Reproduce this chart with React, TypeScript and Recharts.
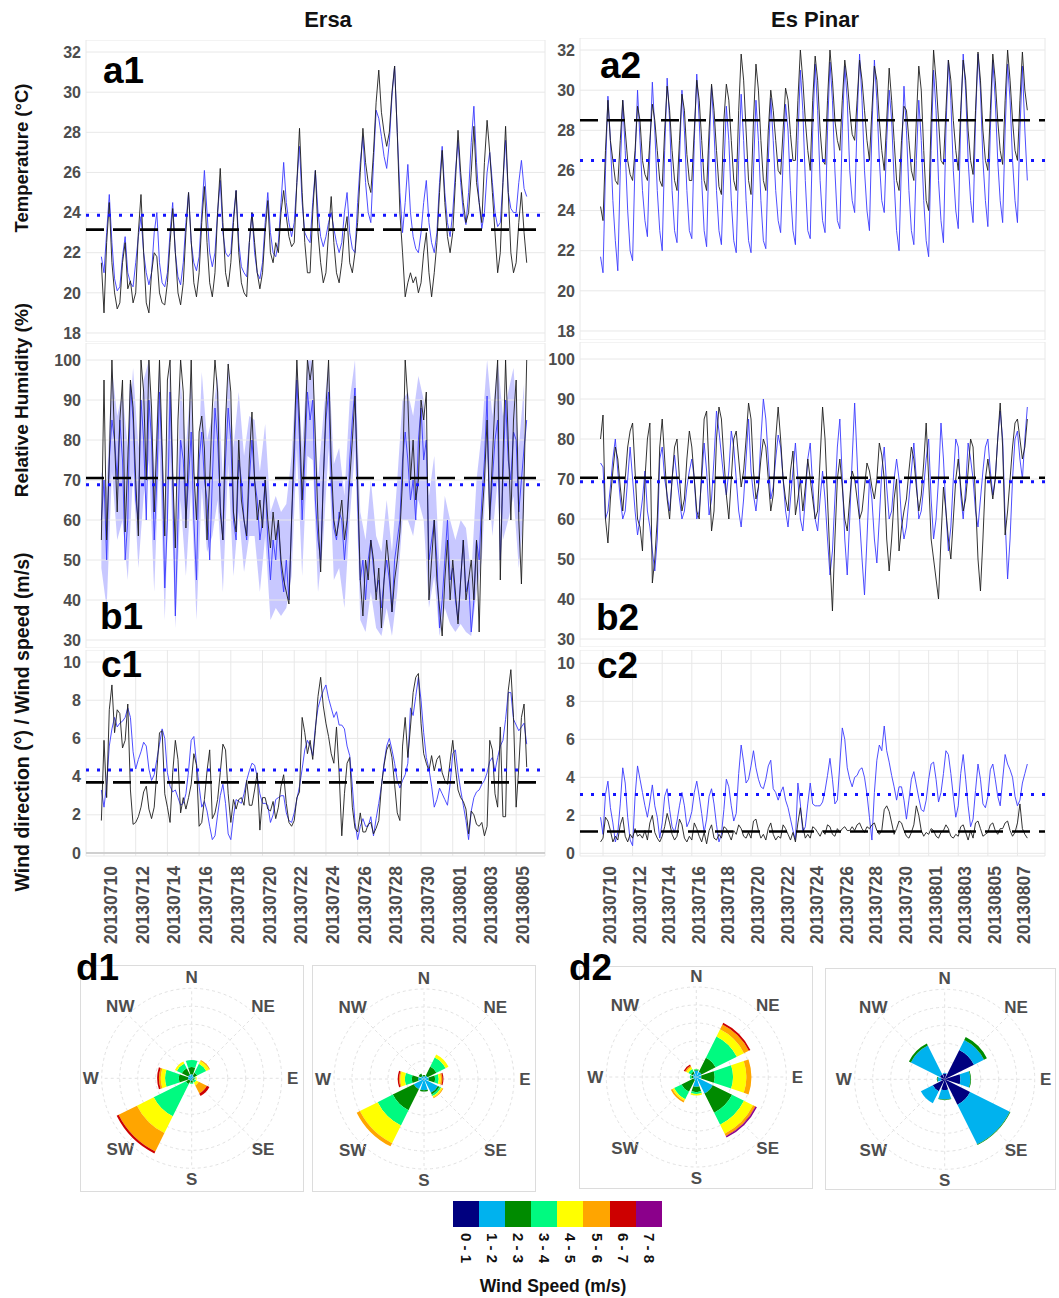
import React from 'react';
import {
  ComposedChart, Line, Area, XAxis, YAxis, CartesianGrid, ReferenceLine,
  RadialBarChart, RadialBar, PolarGrid, PolarAngleAxis, PolarRadiusAxis,
} from 'recharts';

const FONT = '"Liberation Sans", Arial, Helvetica, sans-serif';
const TICK_GREY = '#4d4d4d';
const GRID = '#e8e8e8';
const OBS_COLOR = '#1e1e1e';
const MOD_COLOR = '#3a3aff';

// 4-hourly samples, first one 4 h before 10 July 00:00 (t in days since 10 July)
const T0 = -1 / 6;
const STEP = 1 / 6;

const ERSA_DATES = ['20130710', '20130712', '20130714', '20130716', '20130718', '20130720', '20130722',
  '20130724', '20130726', '20130728', '20130730', '20130801', '20130803', '20130805'];
const PINAR_DATES = [...ERSA_DATES, '20130807'];

const TEMP_TICKS = [18, 20, 22, 24, 26, 28, 30, 32];
const RH_TICKS = [30, 40, 50, 60, 70, 80, 90, 100];
const WS_TICKS = [0, 2, 4, 6, 8, 10];

// ---- Ersa temperature (a1)
const A1_OBS = [21.5,
  19.0, 22.5, 24.5, 21.5, 20.0, 19.2,
  19.5, 21.5, 22.5, 20.2, 20.6, 19.5,
  20.0, 23.0, 24.9, 22.0, 19.5, 19.0,
  21.0, 22.0, 21.8, 20.0, 19.5, 19.4,
  20.5, 22.5, 24.2, 22.0, 20.0, 19.4,
  20.5, 23.0, 25.0, 22.6, 20.5, 19.8,
  21.0, 23.5, 25.3, 22.5, 20.5, 19.8,
  21.0, 24.0, 26.2, 23.5, 21.0, 20.3,
  21.5, 23.5, 25.1, 22.0, 20.5, 20.0,
  19.8, 22.5, 24.0, 22.5, 21.0, 20.2,
  21.0, 23.0, 24.6, 22.0, 21.5, 22.5,
  22.0, 24.0, 25.1, 23.8, 22.8, 22.3,
  22.5, 25.5, 28.2, 25.0, 22.5, 21.0,
  21.0, 24.0, 26.1, 23.0, 21.5, 20.5,
  21.0, 23.0, 24.8, 22.5, 21.0, 20.5,
  21.5, 23.0, 23.8, 21.5, 21.0, 22.0,
  23.5, 26.0, 28.2, 26.5, 25.5, 25.0,
  27.0, 29.5, 31.1, 29.0, 28.0, 27.3,
  28.0, 30.0, 31.3, 28.0, 24.0, 22.0,
  19.8, 20.5, 21.0, 20.5, 20.8, 20.0,
  20.5, 22.0, 23.0, 21.0, 19.8, 21.0,
  22.5, 25.0, 27.1, 24.5, 22.8, 22.0,
  23.0, 25.5, 28.1, 26.0, 24.5, 23.5,
  24.0, 26.0, 28.3, 25.5, 24.5, 23.5,
  26.5, 28.6, 27.0, 25.0, 23.0, 21.0,
  22.0, 25.5, 28.3, 25.0, 22.0, 21.0,
  21.5, 23.5, 25.0, 23.0, 21.5];
const A1_MOD = [21.8,
  21.0, 23.0, 24.9, 22.5, 20.7, 20.1,
  20.3, 21.8, 22.8, 21.0, 20.5, 20.3,
  21.5, 22.8, 23.8, 22.0, 21.0, 20.4,
  21.0, 23.0, 24.0, 21.5, 20.5, 20.3,
  21.0, 23.0, 24.5, 22.0, 20.8, 20.4,
  21.5, 23.5, 25.0, 22.5, 21.5, 21.1,
  21.8, 24.0, 26.1, 24.0, 22.0, 21.3,
  22.0, 24.0, 25.6, 23.0, 22.0, 21.8,
  22.0, 23.8, 25.1, 22.5, 21.3, 21.0,
  20.8, 22.5, 24.0, 22.0, 21.0, 20.7,
  21.5, 23.5, 25.0, 23.0, 22.0, 21.8,
  22.5, 24.5, 26.5, 24.5, 23.5, 22.8,
  23.5, 25.5, 27.3, 24.5, 23.0, 22.7,
  22.5, 24.5, 26.1, 24.0, 22.8, 22.3,
  22.8, 23.5, 24.0, 23.2, 22.5, 22.0,
  22.5, 24.0, 25.0, 23.0, 22.2, 22.0,
  24.5, 26.5, 27.8, 25.5, 24.0, 23.5,
  26.5, 29.1, 28.7, 27.8, 26.8, 26.2,
  27.5, 29.8, 31.3, 28.0, 25.0, 23.0,
  24.5, 26.4, 24.0, 22.8, 22.2, 22.0,
  23.0, 24.5, 25.6, 23.5, 22.5, 22.0,
  23.0, 25.5, 27.3, 25.0, 23.5, 22.8,
  24.0, 26.0, 27.6, 25.5, 24.0, 23.4,
  25.0, 27.5, 29.3, 26.5, 24.5, 23.2,
  24.0, 26.0, 27.0, 25.5, 24.0, 23.3,
  23.5, 25.5, 27.6, 25.0, 24.2, 24.0,
  24.0, 25.5, 26.6, 25.2, 24.8];

// ---- Es Pinar temperature (a2)
const A2_OBS = [24.2,
  23.5, 27.0, 29.5, 27.5, 26.5, 25.5,
  25.3, 27.5, 29.5, 28.0, 26.5, 25.8,
  25.5, 27.0, 29.2, 28.5, 26.5, 25.8,
  25.5, 27.5, 29.3, 28.5, 27.0, 25.5,
  25.2, 28.0, 30.2, 29.0, 27.0, 25.5,
  25.0, 27.5, 29.8, 29.0, 26.8, 25.5,
  25.5, 28.0, 30.5, 29.5, 27.5, 25.5,
  25.0, 28.0, 30.3, 29.0, 27.0, 25.2,
  24.8, 28.5, 30.3, 29.5, 27.5, 25.5,
  25.0, 29.0, 31.8, 30.5, 28.0, 25.5,
  24.8, 28.5, 31.3, 30.0, 27.5, 25.5,
  25.0, 28.0, 30.0, 29.0, 27.5, 26.0,
  25.8, 28.0, 30.1, 29.5, 27.8, 26.5,
  26.5, 29.5, 32.0, 30.5, 28.5, 27.0,
  26.0, 29.5, 31.7, 30.5, 28.0, 26.5,
  26.3, 29.5, 32.0, 30.5, 28.5, 27.5,
  27.0, 29.5, 31.5, 30.5, 29.0, 27.8,
  27.5, 29.5, 31.5, 30.5, 29.0, 27.5,
  26.5, 29.0, 31.2, 30.5, 28.5, 27.0,
  26.0, 28.5, 31.1, 29.5, 27.5, 25.5,
  25.0, 27.5, 29.2, 29.0, 27.5, 26.0,
  25.5, 28.5, 31.2, 30.0, 27.0, 24.5,
  24.0, 28.5, 32.0, 30.5, 28.5, 26.5,
  26.3, 29.0, 31.5, 30.5, 28.5, 27.0,
  26.0, 29.0, 31.5, 30.5, 28.0, 26.5,
  25.8, 29.0, 31.9, 30.5, 28.0, 26.5,
  26.0, 29.0, 31.8, 30.5, 28.5, 27.0,
  26.3, 29.5, 32.0, 30.5, 28.5, 27.0,
  26.5, 29.5, 31.9, 30.0, 29.0];
const A2_MOD = [21.7,
  20.9, 26.0, 29.7, 27.5, 24.5, 22.5,
  21.0, 26.0, 29.5, 27.0, 24.0, 22.0,
  21.5, 26.5, 30.0, 27.5, 25.0, 23.5,
  22.7, 27.0, 30.4, 28.0, 25.0, 23.0,
  22.0, 27.0, 30.6, 28.5, 25.0, 23.0,
  22.4, 26.5, 30.0, 28.0, 25.0, 23.0,
  22.6, 27.5, 30.8, 28.5, 25.5, 23.0,
  22.2, 27.0, 30.2, 28.0, 25.0, 23.0,
  22.3, 26.0, 29.2, 27.5, 24.5, 22.5,
  21.9, 26.5, 29.8, 27.5, 24.5, 22.5,
  21.9, 26.0, 29.5, 27.5, 24.5, 22.5,
  22.1, 26.5, 29.6, 27.5, 25.0, 23.5,
  22.9, 26.5, 29.3, 28.0, 25.0, 23.0,
  22.3, 27.5, 31.0, 29.0, 25.5, 23.0,
  22.6, 28.0, 31.3, 29.0, 25.5, 23.5,
  22.9, 28.0, 31.4, 29.5, 26.0, 23.5,
  23.1, 28.0, 31.2, 29.5, 26.0, 24.5,
  23.9, 28.5, 31.8, 29.5, 26.0, 24.0,
  23.0, 28.0, 31.5, 29.5, 26.5, 24.5,
  23.9, 27.5, 30.0, 28.5, 25.5, 23.0,
  22.0, 26.5, 30.2, 28.0, 25.0, 23.0,
  22.3, 26.5, 29.5, 27.5, 24.5, 22.5,
  21.7, 27.0, 31.0, 29.0, 25.5, 23.5,
  22.4, 28.0, 31.5, 29.5, 26.0, 24.0,
  23.1, 28.5, 31.8, 30.0, 26.5, 24.5,
  23.4, 28.5, 31.8, 30.0, 26.5, 24.5,
  23.2, 28.0, 31.5, 29.5, 26.5, 24.5,
  23.4, 28.0, 31.3, 29.5, 26.5, 24.5,
  23.4, 28.0, 31.2, 28.0, 25.5];

// ---- Ersa relative humidity (b1)
const B1_OBS = [55,
  95, 55, 75, 100, 80, 62,
  85, 95, 57, 75, 95, 88,
  70, 56, 100, 92, 70, 100,
  88, 62, 80, 100, 78, 56,
  95, 100, 72, 53, 85, 100,
  92, 58, 78, 100, 72, 60,
  82, 86, 78, 55, 70, 88,
  100, 92, 62, 55, 85, 99,
  92, 62, 57, 80, 65, 60,
  56, 75, 87, 70, 60, 65,
  58, 70, 60, 53, 62, 55,
  60, 50, 45, 42, 39, 60,
  80, 100, 85, 65, 80, 100,
  95, 100, 80, 60, 47, 70,
  88, 100, 75, 60, 56, 60,
  65, 55, 60, 70, 80, 91,
  70, 45, 36, 50, 45, 55,
  50, 40, 48, 33, 45, 55,
  48, 37, 45, 50, 57, 70,
  100, 90, 70, 80, 65, 70,
  90, 85, 92, 40, 50, 60,
  45, 38, 31, 45, 55, 40,
  50, 42, 34, 45, 55, 40,
  45, 50, 40, 55, 32, 60,
  70, 85, 60, 75, 90, 100,
  45, 75, 100, 80, 60, 85,
  95, 60, 44, 70, 100];
const B1_MOD = [60,
  70, 50, 75, 85, 80, 70,
  85, 75, 50, 60, 94, 85,
  65, 60, 90, 80, 60, 90,
  80, 55, 70, 92, 75, 43,
  60, 92, 70, 36, 60, 80,
  75, 60, 70, 82, 60, 45,
  75, 82, 70, 65, 50, 70,
  88, 80, 64, 55, 75, 88,
  80, 60, 55, 75, 70, 60,
  55, 70, 80, 70, 65, 55,
  60, 70, 55, 45, 55, 50,
  60, 48, 42, 50, 40, 60,
  75, 95, 80, 60, 75, 92,
  85, 90, 65, 55, 50, 70,
  85, 92, 70, 58, 55, 62,
  60, 50, 58, 75, 85, 93,
  65, 45, 50, 40, 50, 55,
  48, 42, 45, 38, 45, 50,
  45, 37, 50, 55, 60, 75,
  82, 75, 65, 70, 60, 80,
  88, 75, 80, 50, 55, 60,
  50, 33, 40, 50, 60, 45,
  48, 40, 35, 45, 55, 42,
  45, 32, 40, 55, 50, 65,
  75, 91, 60, 70, 80, 85,
  50, 70, 90, 75, 70, 82,
  80, 62, 70, 78, 85];
// model spread, 8-hourly
const B1_BAND_LO = [48,
  38, 72, 55, 60, 45, 72, 48, 66, 75, 42, 78, 35, 76, 33, 65, 46, 68, 35,
  68, 52, 56, 65, 42, 74, 46, 62, 47, 56, 56, 42, 56, 35, 38, 36, 38, 46,
  78, 46, 76, 75, 42, 55, 78, 45, 48, 38, 60, 78, 35, 32, 42, 33, 31, 38,
  31, 42, 60, 60, 56, 65, 60, 38, 46, 31, 38, 34, 32, 34, 32, 31, 42, 50,
  76, 56, 70, 55, 60, 66, 48, 62];
const B1_BAND_HI = [72,
  68, 98, 86, 92, 78, 98, 78, 95, 100, 72, 100, 60, 100, 52, 95, 78, 96, 62,
  97, 80, 86, 96, 70, 100, 78, 92, 76, 86, 85, 72, 84, 62, 66, 62, 64, 76,
  100, 78, 100, 100, 70, 86, 100, 74, 78, 66, 90, 100, 62, 55, 70, 56, 52, 65,
  52, 70, 90, 92, 86, 96, 90, 66, 76, 48, 66, 60, 55, 60, 58, 46, 70, 82,
  100, 86, 100, 86, 92, 98, 78, 94];

// ---- Es Pinar relative humidity (b2)
const B2_OBS = [80,
  86, 60, 54, 65, 72, 78,
  75, 68, 62, 70, 78, 82,
  84, 72, 60, 58, 52, 70,
  80, 84, 44, 50, 60, 78,
  85, 75, 65, 60, 70, 78,
  80, 70, 62, 65, 75, 82,
  78, 70, 62, 60, 72, 85,
  87, 72, 57, 62, 80, 88,
  85, 75, 66, 60, 70, 80,
  82, 75, 68, 72, 80, 89,
  85, 72, 65, 68, 75, 80,
  78, 70, 62, 66, 80, 88,
  80, 70, 65, 62, 72, 77,
  61, 65, 70, 62, 68, 75,
  70, 65, 60, 62, 75, 88,
  80, 65, 50, 37, 55, 70,
  75, 68, 60, 57, 65, 72,
  70, 65, 60, 62, 68, 74,
  72, 68, 65, 70, 79, 76,
  70, 55, 47, 55, 65, 70,
  52, 58, 62, 65, 72, 78,
  75, 68, 62, 66, 74, 84,
  70, 55, 50, 45, 40, 55,
  68, 62, 55, 50, 60, 70,
  75, 68, 62, 65, 72, 80,
  78, 65, 50, 42, 55, 70,
  75, 70, 65, 70, 80, 89,
  78, 56, 62, 70, 78, 84,
  85, 80, 75, 78, 85];
const B2_MOD = [74,
  73, 60, 62, 68, 75, 80,
  72, 65, 60, 62, 70, 78,
  70, 62, 56, 60, 65, 72,
  62, 58, 52, 47, 55, 75,
  78, 70, 66, 62, 70, 76,
  70, 65, 60, 62, 68, 72,
  75, 70, 60, 62, 70, 79,
  72, 61, 65, 75, 87, 82,
  76, 70, 66, 72, 82, 78,
  70, 62, 58, 65, 75, 85,
  72, 66, 62, 68, 80, 90,
  85, 75, 65, 68, 75, 81,
  78, 70, 62, 58, 65, 72,
  79, 70, 60, 57, 65, 75,
  79, 68, 60, 57, 65, 72,
  65, 55, 46, 52, 65, 78,
  85, 70, 55, 46, 60, 75,
  89, 75, 60, 50, 41, 55,
  70, 65, 55, 49, 60, 72,
  78, 68, 60, 62, 70, 75,
  70, 60, 55, 58, 65, 72,
  79, 70, 60, 62, 68, 75,
  80, 65, 55, 60, 70, 84,
  75, 62, 52, 58, 70, 80,
  78, 66, 60, 68, 79, 75,
  70, 62, 58, 65, 72, 78,
  80, 72, 66, 70, 80, 87,
  80, 60, 45, 55, 70, 80,
  82, 75, 70, 80, 88];

// ---- Ersa wind speed (c1)
const C1_OBS = [1.7,
  5.9, 2.9, 7.5, 8.8, 6.3, 7.5,
  7.3, 5.5, 5.9, 7.8, 3.3, 1.5,
  1.6, 1.9, 2.4, 3.2, 3.5, 2.3,
  1.8, 2.4, 4.3, 6.3, 6.4, 3.1,
  2.4, 1.6, 4.2, 5.9, 4.9, 2.1,
  2.9, 2.3, 2.9, 3.6, 5.2, 4.6,
  1.4, 1.6, 2.8, 4.3, 5.4, 1.8,
  2.1, 2.8, 4.2, 5.7, 5.4, 3.1,
  1.6, 2.8, 2.3, 2.8, 2.9, 2.5,
  3.8, 2.5, 2.5, 3.3, 4.2, 1.2,
  2.9, 2.9, 2.3, 2.2, 2.7, 1.8,
  2.4, 3.5, 4.1, 2.6, 1.6, 1.4,
  1.7, 2.9, 3.2, 7.1, 6.3, 5.2,
  5.9, 4.9, 6.4, 8.2, 9.2, 7.7,
  6.8, 6.1, 5.2, 4.7, 6.6, 4.2,
  0.9, 3.1, 4.7, 5.0, 2.4, 1.3,
  1.1, 2.1, 1.1, 1.1, 1.5, 1.6,
  1.0, 1.3, 1.7, 3.5, 4.6, 5.4,
  5.7, 5.0, 3.6, 2.1, 1.7, 5.6,
  7.1, 5.0, 6.6, 8.4, 9.2, 9.4,
  6.8, 5.2, 4.7, 4.3, 5.1, 4.3,
  4.9, 5.1, 4.2, 3.8, 3.6, 4.8,
  5.9, 4.5, 3.3, 2.9, 2.7, 2.3,
  1.0, 2.2, 2.0, 1.5, 1.4, 1.6,
  0.9, 1.4, 5.9, 5.4, 3.1, 2.4,
  6.6, 1.9, 1.9, 8.5, 9.6, 7.1,
  2.4, 4.5, 7.1, 7.8, 4.5];
const C1_MOD = [3.3,
  2.4, 3.6, 5.6, 6.5, 7.1, 6.6,
  6.8, 6.9, 7.1, 7.6, 7.1, 5.3,
  4.4, 4.9, 5.3, 5.8, 5.6, 4.4,
  3.8, 4.1, 4.9, 5.7, 6.5, 6.0,
  4.2, 3.5, 3.2, 3.3, 2.9, 2.5,
  2.6, 3.1, 4.3, 5.9, 6.1, 4.7,
  3.5, 2.4, 2.7, 2.2, 1.4, 0.7,
  0.9, 2.0, 3.0, 3.6, 2.6, 1.0,
  0.7, 1.9, 2.8, 2.7, 2.6, 3.1,
  3.8, 4.3, 4.7, 4.6, 4.0, 3.1,
  2.6, 2.6, 2.5, 1.6, 2.0, 2.8,
  2.9, 3.0, 3.0, 2.1, 1.7, 1.6,
  2.1, 2.8, 3.5, 4.4, 5.4, 5.9,
  5.6, 5.1, 6.6, 7.6, 8.1, 8.5,
  8.8, 8.1, 7.6, 7.1, 7.4, 6.7,
  6.7, 6.5, 5.6, 5.1, 3.5, 1.6,
  0.7, 1.4, 1.8, 1.4, 1.4, 1.9,
  0.9, 1.8, 2.6, 3.5, 4.7, 5.6,
  6.0, 5.4, 4.7, 3.8, 3.4, 3.8,
  4.1, 4.7, 7.6, 7.2, 8.2, 9.2,
  8.0, 6.3, 5.0, 4.4, 3.5, 2.4,
  2.8, 3.4, 3.1, 2.8, 2.5, 3.6,
  5.2, 5.4, 4.2, 3.3, 2.5, 1.7,
  0.7, 2.2, 2.9, 3.2, 3.3, 3.6,
  3.8, 4.2, 4.8, 5.0, 4.3, 5.0,
  5.6, 5.9, 7.0, 8.4, 8.4, 7.0,
  6.7, 6.4, 6.6, 6.8, 5.7];

// ---- Es Pinar wind speed (c2)
const C2_OBS = [0.6,
  0.8, 1.9, 1.7, 1.2, 0.6, 0.9,
  0.7, 1.5, 1.9, 0.9, 0.6, 1.0,
  0.8, 1.3, 0.9, 1.0, 0.8, 1.2,
  0.7, 1.6, 2.0, 1.1, 0.8, 0.6,
  0.9, 1.4, 2.1, 1.6, 1.0, 0.7,
  0.9, 1.8, 1.5, 0.8, 0.6, 0.9,
  0.7, 1.6, 1.3, 0.9, 0.6, 1.1,
  0.5, 1.2, 1.5, 0.8, 0.7, 1.0,
  0.8, 1.4, 1.3, 1.0, 0.7, 1.2,
  1.0, 1.5, 1.3, 0.9, 0.8, 1.1,
  0.8, 1.7, 1.8, 1.2, 0.8, 1.0,
  0.7, 1.3, 1.6, 1.0, 0.7, 0.9,
  0.8, 1.5, 1.3, 1.0, 0.7, 1.1,
  0.6, 1.6, 2.4, 1.4, 0.8, 1.0,
  0.8, 1.4, 1.3, 1.1, 0.9, 1.2,
  1.0, 1.5, 1.4, 1.0, 0.9, 1.3,
  1.1, 1.3, 1.4, 1.2, 1.2, 1.4,
  1.2, 1.5, 1.6, 1.3, 1.1, 1.4,
  1.3, 1.5, 1.6, 1.2, 1.0, 1.2,
  2.3, 2.5, 2.2, 1.6, 1.0, 1.3,
  1.7, 1.6, 1.2, 0.9, 0.8, 1.1,
  1.5, 2.5, 2.0, 1.2, 0.9, 1.1,
  1.0, 1.3, 1.2, 0.9, 0.8, 1.1,
  1.2, 1.5, 1.3, 0.9, 0.8, 1.0,
  0.9, 1.4, 1.5, 1.1, 0.7, 1.2,
  0.8, 1.6, 1.7, 1.3, 0.9, 1.0,
  1.1, 1.5, 1.6, 1.2, 1.0, 1.3,
  1.3, 1.6, 1.7, 1.2, 0.9, 1.1,
  1.6, 2.6, 1.3, 1.0, 0.8];
const C2_MOD = [1.9,
  1.0, 3.1, 3.8, 2.4, 1.6, 0.6,
  1.1, 2.6, 4.5, 3.7, 1.9, 0.7,
  0.4, 3.0, 4.6, 3.9, 3.2, 2.5,
  1.9, 2.7, 3.6, 2.5, 1.9, 0.8,
  1.6, 3.0, 3.4, 2.3, 1.4, 1.1,
  1.7, 2.5, 3.2, 2.5, 1.4, 1.7,
  2.2, 3.2, 3.8, 3.0, 2.1, 1.1,
  1.8, 3.0, 3.4, 2.6, 1.5, 0.6,
  1.0, 2.3, 3.9, 3.5, 2.5, 1.7,
  2.1, 4.2, 5.7, 4.8, 3.7, 3.9,
  4.6, 5.4, 4.5, 3.9, 3.5, 3.4,
  3.9, 4.6, 4.9, 3.4, 3.2, 2.8,
  3.2, 3.5, 2.8, 2.4, 1.8, 1.2,
  0.7, 3.7, 2.6, 1.1, 1.4, 2.6,
  3.7, 2.6, 2.5, 2.5, 2.5, 2.7,
  3.3, 4.1, 5.0, 3.9, 2.6, 2.8,
  4.7, 6.6, 6.0, 4.5, 3.9, 3.5,
  4.0, 4.1, 4.4, 4.5, 4.0, 3.1,
  1.9, 0.7, 3.2, 4.9, 5.7, 5.4,
  6.7, 5.4, 4.8, 4.1, 3.5, 2.8,
  3.5, 3.5, 2.8, 1.8, 2.8, 3.9,
  4.3, 3.6, 2.9, 2.3, 2.2, 2.8,
  3.9, 4.7, 4.8, 3.9, 2.7, 3.2,
  4.2, 5.4, 5.2, 4.2, 3.0, 1.9,
  2.5, 4.2, 5.2, 3.9, 2.5, 1.4,
  1.8, 3.3, 4.7, 3.9, 2.6, 2.4,
  3.0, 4.4, 4.7, 3.9, 3.0, 2.5,
  3.9, 5.2, 4.7, 4.4, 4.0, 3.0,
  2.5, 2.8, 3.7, 4.2, 4.7];

// ---- wind roses: frequency (%) per direction, split by speed bin
const DIRECTIONS = ['N', 'NE', 'E', 'SE', 'S', 'SW', 'W', 'NW'];
const COMPASS_ANGLES = [90, 45, 0, -45, -90, -135, -180, -225];
const SPEED_BINS = ['0 - 1', '1 - 2', '2 - 3', '3 - 4', '4 - 5', '5 - 6', '6 - 7', '7 - 8'];
const SPEED_COLORS = ['#00007f', '#00b2ee', '#008b00', '#00fa80', '#ffff00', '#ffa500', '#cd0000', '#8b008b'];

const ROSE_ERSA_1 = [
  [0.1, 1.0, 2.0, 2.0, 0, 0, 0, 0],
  [0.1, 0.6, 1.0, 2.8, 0.9, 0.3, 0, 0],
  [0.1, 0.4, 0.3, 0.3, 0.3, 0, 0, 0],
  [0.1, 0.3, 0.4, 0.6, 0.8, 2.5, 0.8, 0],
  [0.1, 0.6, 0.5, 0.3, 0, 0, 0, 0],
  [0.2, 0.6, 1.0, 10.0, 5.2, 5.7, 0.6, 0],
  [0.2, 0.8, 2.6, 3.8, 1.2, 0.5, 0.5, 0],
  [0.1, 1.0, 2.0, 1.5, 0.6, 0, 0, 0],
];
const ROSE_ERSA_2 = [
  [0.1, 0.6, 0.4, 0, 0, 0, 0, 0],
  [0.1, 1.0, 2.8, 2.8, 0.9, 0, 0, 0],
  [0.1, 1.2, 1.8, 1.0, 0.6, 0.4, 0.3, 0],
  [0.1, 4.2, 0.5, 0.5, 0.4, 0.3, 0, 0],
  [0.1, 3.0, 0.4, 0, 0, 0, 0, 0],
  [0.3, 2.9, 6.5, 4.7, 5.5, 1.0, 0, 0],
  [0.1, 1.5, 1.8, 1.9, 1.3, 0.3, 0.4, 0],
  [0.1, 0.8, 0.8, 0, 0, 0, 0, 0],
];
const ROSE_PINAR_1 = [
  [0.1, 1.7, 0.2, 0.2, 0.1, 0, 0, 0],
  [0.1, 1.5, 4.4, 6.6, 2.2, 1.5, 0.5, 0],
  [0.1, 1.3, 3.7, 5.1, 3.7, 1.4, 0, 0],
  [0.1, 5.0, 6.0, 3.7, 2.8, 0.7, 0.1, 0.4],
  [0.1, 2.6, 1.5, 0.5, 0.4, 0, 0, 0],
  [0.1, 0.8, 3.7, 2.3, 0.5, 0.5, 0, 0],
  [0.1, 0.8, 0.5, 0.4, 0, 0, 0, 0],
  [0.1, 1.0, 0.6, 0.8, 0.6, 0.4, 0.4, 0],
];
const ROSE_PINAR_2 = [
  [1.6, 0.2, 0, 0, 0, 0, 0, 0],
  [9.1, 3.1, 0.9, 0, 0, 0, 0, 0],
  [4.4, 2.7, 0.2, 0, 0, 0, 0, 0],
  [7.9, 12.3, 0.2, 0, 0, 0, 0, 0],
  [3.0, 2.6, 0.2, 0, 0, 0, 0, 0],
  [3.7, 3.7, 0, 0, 0, 0, 0, 0],
  [1.0, 1.0, 0.2, 0, 0, 0, 0, 0],
  [1.5, 9.0, 0.6, 0, 0, 0, 0, 0],
];

function DateTick(props: any) {
  const { x, y, payload, dates } = props;
  const label = dates[Math.round(payload.value / 2)];
  return (
    <text transform={`translate(${x + 7},${y + 8}) rotate(-90)`} textAnchor="end" dominantBaseline="central"
      fontSize={17.5} fontWeight={700} fill={TICK_GREY} fontFamily={FONT}>{label}</text>
  );
}

function CompassTick(props: any) {
  return (
    <text x={props.x} y={props.y} textAnchor="middle" dominantBaseline="central"
      fontSize={17} fontWeight={700} fill={TICK_GREY} fontFamily={FONT}>{props.payload.value}</text>
  );
}

type PanelProps = {
  left: number; top: number; width: number; height: number;
  axisWidth: number; rightPad: number; bottomAxis: number;
  xDomain: [number, number]; dates: string[];
  yDomain: [number, number]; yTicks: number[];
  obs: number[]; mod: number[]; obsMean: number; modMean: number;
  lo?: number[]; hi?: number[]; zeroLine?: boolean;
};

function SeriesPanel(p: PanelProps) {
  const rows = p.obs.map((v, i) => ({ t: T0 + i * STEP, obs: v, mod: p.mod[i] }));
  const bandRows = p.lo && p.hi ? p.lo.map((v, i) => ({ t: T0 + i * 2 * STEP, band: [v, p.hi![i]] })) : null;
  const xTicks = p.dates.map((_, i) => i * 2);
  const margin = { top: 0, right: p.rightPad, bottom: 0, left: 0 };
  const xAxis = (withTicks: boolean) => (
    <XAxis type="number" dataKey="t" domain={p.xDomain} ticks={xTicks} allowDataOverflow interval={0}
      height={p.bottomAxis} axisLine={false} tickLine={false} tickSize={0}
      tick={withTicks && p.bottomAxis > 0 ? <DateTick dates={p.dates} /> : false} />
  );
  const yAxis = (withTicks: boolean) => (
    <YAxis type="number" domain={p.yDomain} ticks={p.yTicks} allowDataOverflow interval={0} width={p.axisWidth}
      axisLine={false} tickLine={false} tickSize={0} tickMargin={5}
      tick={withTicks ? { fill: TICK_GREY, fontSize: 16, fontWeight: 700, fontFamily: FONT } : false} />
  );
  return (
    <>
      {bandRows && (
        <div style={{ position: 'absolute', left: p.left, top: p.top }}>
          <ComposedChart width={p.width} height={p.height} data={bandRows} margin={margin}>
            {xAxis(false)}
            {yAxis(false)}
            <Area type="linear" dataKey="band" stroke="none" fill="#7b7bff" fillOpacity={0.42} isAnimationActive={false} />
          </ComposedChart>
        </div>
      )}
      <div style={{ position: 'absolute', left: p.left, top: p.top }}>
        <ComposedChart width={p.width} height={p.height} data={rows} margin={margin}>
          <CartesianGrid stroke={GRID} strokeWidth={1} />
          {xAxis(true)}
          {yAxis(true)}
          {p.zeroLine && <ReferenceLine y={0} stroke="#c4c4c4" strokeWidth={1.5} />}
          <Line type="linear" dataKey="mod" stroke={MOD_COLOR} strokeWidth={0.9} dot={false} isAnimationActive={false} />
          <Line type="linear" dataKey="obs" stroke={OBS_COLOR} strokeWidth={1} strokeOpacity={0.9} dot={false} isAnimationActive={false} />
          <ReferenceLine y={p.obsMean} stroke="#000000" strokeWidth={2.6} strokeDasharray="18 9" />
          <ReferenceLine y={p.modMean} stroke="#1414ff" strokeWidth={3} strokeDasharray="3 8" />
        </ComposedChart>
      </div>
    </>
  );
}

type RoseProps = { left: number; top: number; width: number; height: number; cx: number; cy: number; freq: number[][] };

function WindRose({ left, top, width, height, cx, cy, freq }: RoseProps) {
  const rows = DIRECTIONS.map((dir, i) => {
    const row: Record<string, string | number> = { dir };
    SPEED_BINS.forEach((_, j) => { row['s' + j] = freq[i][j]; });
    return row;
  });
  const common = {
    width: width - 2, height: height - 2, data: rows, cx: cx - left - 1, cy: cy - top - 1,
    innerRadius: 0, outerRadius: 90, layout: 'centric' as const, barCategoryGap: '9%',
    margin: { top: 0, right: 0, bottom: 0, left: 0 },
  };
  return (
    <div style={{ position: 'absolute', left, top, width, height, border: '1px solid #dcdcdc', boxSizing: 'border-box' }}>
      {/* compass labels, N at the top */}
      <div style={{ position: 'absolute', left: 0, top: 0 }}>
        <RadialBarChart {...common} startAngle={90} endAngle={-270}>
          <PolarAngleAxis type="category" dataKey="dir" tickLine={false} axisLine={false} tickSize={11} tick={<CompassTick />} />
          <PolarRadiusAxis type="number" domain={[0, 25]} tickCount={6} tick={false} axisLine={false} />
        </RadialBarChart>
      </div>
      {/* grid + stacked wedges; angle axis turned half a sector so each wedge sits on its direction */}
      <div style={{ position: 'absolute', left: 0, top: 0 }}>
        <RadialBarChart {...common} startAngle={67.5} endAngle={-292.5}>
          <PolarGrid gridType="circle" polarAngles={COMPASS_ANGLES} stroke="#e2e2e2" strokeDasharray="3 3" />
          <PolarAngleAxis type="category" dataKey="dir" tick={false} tickLine={false} axisLine={false} />
          <PolarRadiusAxis type="number" domain={[0, 25]} tickCount={6} tick={false} axisLine={false} />
          {SPEED_BINS.map((b, j) => (
            <RadialBar key={b} dataKey={'s' + j} stackId="speed" fill={SPEED_COLORS[j]} isAnimationActive={false} />
          ))}
        </RadialBarChart>
      </div>
    </div>
  );
}

const panelLabel = (text: string, left: number, baseline: number) => (
  <div style={{ position: 'absolute', left, top: baseline - 34, fontSize: 37, fontWeight: 700, lineHeight: '37px', color: '#000' }}>{text}</div>
);

const axisTitle = (text: string, cy: number, size: number) => (
  <div style={{
    position: 'absolute', left: 22, top: cy, transform: 'translate(-50%, -50%) rotate(-90deg)',
    whiteSpace: 'nowrap', fontSize: size, fontWeight: 700, color: '#111',
  }}>{text}</div>
);

export default function App() {
  const L = { left: 0, width: 560, axisWidth: 86, rightPad: 15, xDomain: [-1.136, 27.82] as [number, number], dates: ERSA_DATES };
  const R = { left: 530, width: 529, axisWidth: 50, rightPad: 14, xDomain: [-1.554, 29.86] as [number, number], dates: PINAR_DATES };
  return (
    <div style={{ position: 'absolute', left: 0, top: 0, width: 1059, height: 1298, background: '#fff', fontFamily: FONT, overflow: 'hidden' }}>
      <div style={{ position: 'absolute', left: 328, top: 20, transform: 'translate(-50%,-50%)', fontSize: 22, fontWeight: 700, color: '#111' }}>Ersa</div>
      <div style={{ position: 'absolute', left: 815, top: 20, transform: 'translate(-50%,-50%)', fontSize: 22, fontWeight: 700, color: '#111', whiteSpace: 'nowrap' }}>Es Pinar</div>

      {axisTitle('Temperature (°C)', 158, 18.5)}
      {axisTitle('Relative Humidity (%)', 400, 19)}
      {axisTitle('Wind direction (°) / Wind speed (m/s)', 722, 19.5)}

      <SeriesPanel {...L} top={40} height={302} bottomAxis={0} yDomain={[17.55, 32.6]} yTicks={TEMP_TICKS}
        obs={A1_OBS} mod={A1_MOD} obsMean={23.15} modMean={23.87} />
      <SeriesPanel {...R} top={38} height={302} bottomAxis={0} yDomain={[17.55, 32.6]} yTicks={TEMP_TICKS}
        obs={A2_OBS} mod={A2_MOD} obsMean={28.5} modMean={26.5} />
      <SeriesPanel {...L} top={343} height={305} bottomAxis={0} yDomain={[28, 104.25]} yTicks={RH_TICKS}
        obs={B1_OBS} mod={B1_MOD} obsMean={70.5} modMean={68.8} lo={B1_BAND_LO} hi={B1_BAND_HI} />
      <SeriesPanel {...R} top={342} height={305} bottomAxis={0} yDomain={[28, 104.25]} yTicks={RH_TICKS}
        obs={B2_OBS} mod={B2_MOD} obsMean={70.3} modMean={69.3} />
      <SeriesPanel {...L} top={650} height={300} bottomAxis={94} yDomain={[-0.157, 10.63]} yTicks={WS_TICKS}
        obs={C1_OBS} mod={C1_MOD} obsMean={3.7} modMean={4.35} zeroLine />
      <SeriesPanel {...R} top={650} height={300} bottomAxis={94} yDomain={[-0.14, 10.7]} yTicks={WS_TICKS}
        obs={C2_OBS} mod={C2_MOD} obsMean={1.15} modMean={3.1} />

      {panelLabel('a1', 103, 86)}
      {panelLabel('a2', 600, 81)}
      {panelLabel('b1', 100, 632)}
      {panelLabel('b2', 596, 633)}
      {panelLabel('c1', 101, 680)}
      {panelLabel('c2', 597, 681)}

      <WindRose left={80} top={965} width={224} height={227} cx={191.7} cy={1078.3} freq={ROSE_ERSA_1} />
      <WindRose left={312} top={965} width={224} height={227} cx={424} cy={1079} freq={ROSE_ERSA_2} />
      <WindRose left={579} top={966} width={234} height={223} cx={696.3} cy={1077} freq={ROSE_PINAR_1} />
      <WindRose left={825} top={968} width={231} height={222} cx={944.7} cy={1079.3} freq={ROSE_PINAR_2} />
      {panelLabel('d1', 76, 983)}
      {panelLabel('d2', 569, 983)}

      <div style={{ position: 'absolute', left: 453, top: 1201, display: 'flex' }}>
        {SPEED_BINS.map((b, j) => (
          <div key={b} style={{ width: 26.1, position: 'relative' }}>
            <div style={{ height: 26, background: SPEED_COLORS[j] }} />
            <div style={{
              position: 'absolute', top: 32, left: '50%', transform: 'translateX(-50%)', writingMode: 'vertical-rl',
              fontSize: 15, fontWeight: 700, color: '#111', whiteSpace: 'nowrap', lineHeight: '16px',
            }}>{b}</div>
          </div>
        ))}
      </div>
      <div style={{ position: 'absolute', left: 553, top: 1286, transform: 'translate(-50%,-50%)', fontSize: 17.5, fontWeight: 700, color: '#111', whiteSpace: 'nowrap' }}>Wind Speed (m/s)</div>
    </div>
  );
}
